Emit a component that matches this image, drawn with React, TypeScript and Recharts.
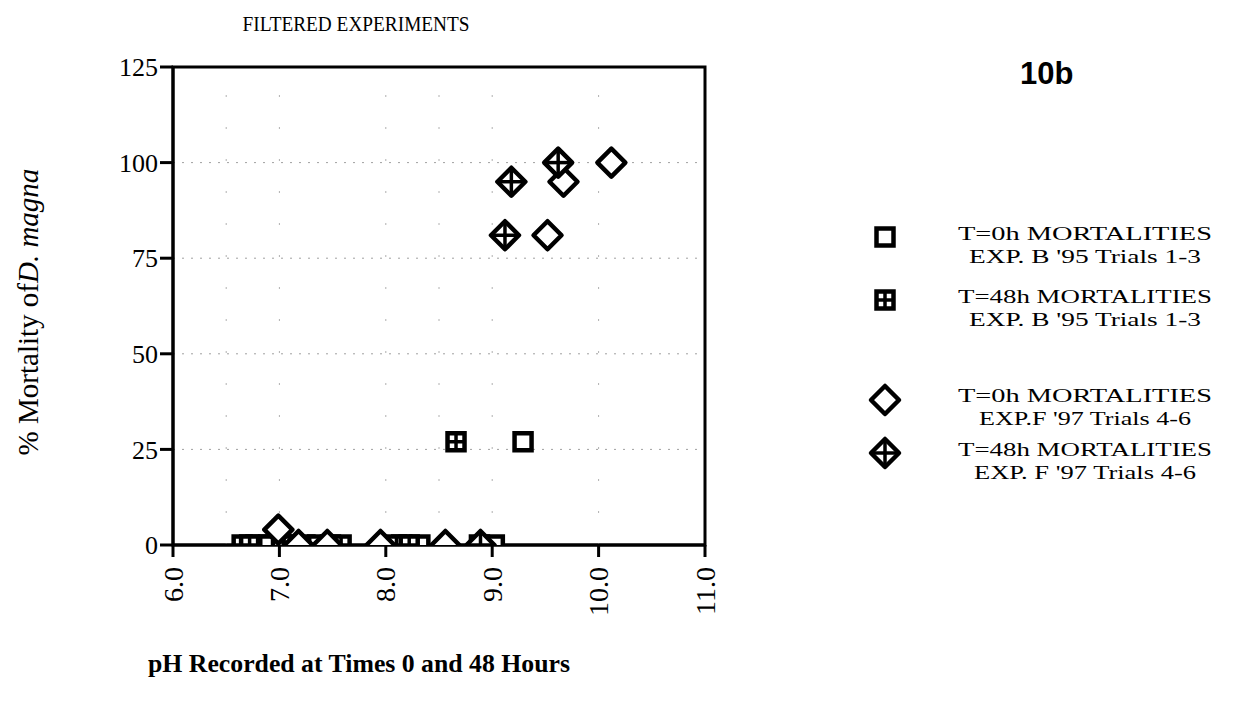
import React from "react";
import {
  ScatterChart,
  Scatter,
  XAxis,
  YAxis,
  CartesianGrid,
  ReferenceLine,
  ReferenceArea,
} from "recharts";

// axis ticks / grid
const xTicks = [6, 7, 8, 9, 10, 11];
const yTicks = [0, 25, 50, 75, 100, 125];
const xGridLines = [6.5, 7, 8, 8.5, 9, 10];

// EXP. B '95, T=0h (open squares)
const expB0_pH = [6.78, 6.9, 7.02, 7.12, 7.24, 7.36, 7.48, 8.15, 8.32, 9.02, 9.29];
const expB0_mort = [0, 0, 0, 0, 0, 0, 0, 0, 0, 0, 27];

// EXP. B '95, T=48h (crossed squares)
const expB48_pH = [6.65, 6.72, 7.58, 8.1, 8.22, 8.88, 8.66];
const expB48_mort = [0, 0, 0, 0, 0, 0, 27];

// EXP. F '97, T=0h (open diamonds)
const expF0_pH = [6.99, 7.18, 7.45, 7.95, 8.56, 9.52, 9.67, 10.12];
const expF0_mort = [4, 0, 0, 0, 0, 81, 95, 100];

// EXP. F '97, T=48h (crossed diamonds)
const expF48_pH = [8.89, 9.12, 9.18, 9.62];
const expF48_mort = [0, 81, 95, 100];

const zip = (xs: number[], ys: number[]) => xs.map((x, i) => ({ x, y: ys[i] }));

const serif = "'Liberation Serif', 'Times New Roman', serif";

interface MarkProps {
  cx?: number;
  cy?: number;
}

const OpenSquare = ({ cx = 0, cy = 0 }: MarkProps) => (
  <rect x={cx - 8.5} y={cy - 8.5} width={17} height={17} fill="#fff" stroke="#000" strokeWidth={4.5} />
);

const CrossSquare = ({ cx = 0, cy = 0 }: MarkProps) => (
  <g>
    <rect x={cx - 8.5} y={cy - 8.5} width={17} height={17} fill="#fff" stroke="#000" strokeWidth={4.5} />
    <line x1={cx - 8} x2={cx + 8} y1={cy} y2={cy} stroke="#000" strokeWidth={3.5} />
    <line x1={cx} x2={cx} y1={cy - 8} y2={cy + 8} stroke="#000" strokeWidth={3.5} />
  </g>
);

const diamondPts = (cx: number, cy: number, r: number) =>
  `${cx},${cy - r} ${cx + r},${cy} ${cx},${cy + r} ${cx - r},${cy}`;

const OpenDiamond = ({ cx = 0, cy = 0 }: MarkProps) => (
  <polygon points={diamondPts(cx, cy, 14)} fill="#fff" stroke="#000" strokeWidth={4.5} strokeLinejoin="round" />
);

const CrossDiamond = ({ cx = 0, cy = 0 }: MarkProps) => (
  <g>
    <polygon points={diamondPts(cx, cy, 14)} fill="#fff" stroke="#000" strokeWidth={4.5} strokeLinejoin="round" />
    <line x1={cx - 14} x2={cx + 14} y1={cy} y2={cy} stroke="#000" strokeWidth={3.5} />
    <line x1={cx} x2={cx} y1={cy - 14} y2={cy + 14} stroke="#000" strokeWidth={3.5} />
  </g>
);

const XTick = (props: any) => {
  const { x, y, payload } = props;
  const ty = y + 8;
  return (
    <text
      x={x}
      y={ty}
      transform={`rotate(-90 ${x} ${ty})`}
      textAnchor="end"
      dominantBaseline="central"
      fontSize={28}
      fontFamily={serif}
      fill="#000"
    >
      {Number(payload.value).toFixed(1)}
    </text>
  );
};

const legendRows = [
  { mark: OpenSquare, cy: 237, lines: ["T=0h MORTALITIES", "EXP. B '95 Trials 1-3"], widths: [254, 232], base: 240 },
  { mark: CrossSquare, cy: 300, lines: ["T=48h MORTALITIES", "EXP. B '95 Trials 1-3"], widths: [254, 232], base: 303 },
  { mark: OpenDiamond, cy: 400, lines: ["T=0h MORTALITIES", "EXP.F '97 Trials 4-6"], widths: [254, 212], base: 402 },
  { mark: CrossDiamond, cy: 453, lines: ["T=48h MORTALITIES", "EXP. F '97 Trials 4-6"], widths: [254, 222], base: 456 },
];

export default function App() {
  return (
    <div style={{ position: "absolute", left: 0, top: 0, width: 1240, height: 700, background: "#fff" }}>
      <ScatterChart
        width={1240}
        height={700}
        margin={{ top: 67, right: 535, bottom: 95, left: 113 }}
      >
        <CartesianGrid
          vertical={false}
          stroke="#a0a0a0"
          strokeDasharray="2 7"
          horizontalValues={[25, 50, 75, 100]}
        />
        {xGridLines.map((v) => (
          <ReferenceLine key={v} x={v} stroke="#b0b0b0" strokeDasharray="2 30" />
        ))}
        <XAxis
          type="number"
          dataKey="x"
          domain={[6, 11]}
          ticks={xTicks}
          allowDataOverflow
          height={60}
          tickSize={12}
          axisLine={{ stroke: "#000", strokeWidth: 3 }}
          tickLine={{ stroke: "#000", strokeWidth: 3 }}
          tick={<XTick />}
        />
        <YAxis
          type="number"
          dataKey="y"
          domain={[0, 125]}
          ticks={yTicks}
          allowDataOverflow
          width={60}
          tickSize={13}
          axisLine={{ stroke: "#000", strokeWidth: 3 }}
          tickLine={{ stroke: "#000", strokeWidth: 3 }}
          tick={{ fill: "#000", fontSize: 26, fontFamily: serif }}
        />
        <ReferenceArea x1={6} x2={11} y1={0} y2={125} fill="none" stroke="#000" strokeWidth={3} />
        <Scatter data={zip(expB0_pH, expB0_mort)} shape={<OpenSquare />} isAnimationActive={false} />
        <Scatter data={zip(expB48_pH, expB48_mort)} shape={<CrossSquare />} isAnimationActive={false} />
        <Scatter data={zip(expF0_pH, expF0_mort)} shape={<OpenDiamond />} isAnimationActive={false} />
        <Scatter data={zip(expF48_pH, expF48_mort)} shape={<CrossDiamond />} isAnimationActive={false} />
      </ScatterChart>

      <svg
        width={1240}
        height={700}
        style={{ position: "absolute", left: 0, top: 0, pointerEvents: "none" }}
      >
        <text x={356} y={31} textAnchor="middle" fontSize={21} fontFamily={serif} textLength={227} lengthAdjust="spacingAndGlyphs">
          FILTERED EXPERIMENTS
        </text>
        <text x={1020} y={84} fontSize={31} fontWeight="bold" fontFamily="'Liberation Sans', Arial, sans-serif">
          10b
        </text>
        <text
          x={38}
          y={312}
          transform="rotate(-90 38 312)"
          textAnchor="middle"
          fontSize={29}
          fontFamily={serif}
        >
          % Mortality of<tspan fontStyle="italic">D. magna</tspan>
        </text>
        <text x={359} y={672} textAnchor="middle" fontSize={25} fontWeight="bold" fontFamily={serif} textLength={422} lengthAdjust="spacingAndGlyphs">
          pH Recorded at Times 0 and 48 Hours
        </text>
        {legendRows.map((row) => {
          const Mark = row.mark;
          return (
            <g key={row.cy}>
              <Mark cx={885} cy={row.cy} />
              <text x={1085} y={row.base} textAnchor="middle" fontSize={19} fontFamily={serif} textLength={row.widths[0]} lengthAdjust="spacingAndGlyphs">
                {row.lines[0]}
              </text>
              <text x={1085} y={row.base + 23} textAnchor="middle" fontSize={19} fontFamily={serif} textLength={row.widths[1]} lengthAdjust="spacingAndGlyphs">
                {row.lines[1]}
              </text>
            </g>
          );
        })}
      </svg>
    </div>
  );
}
